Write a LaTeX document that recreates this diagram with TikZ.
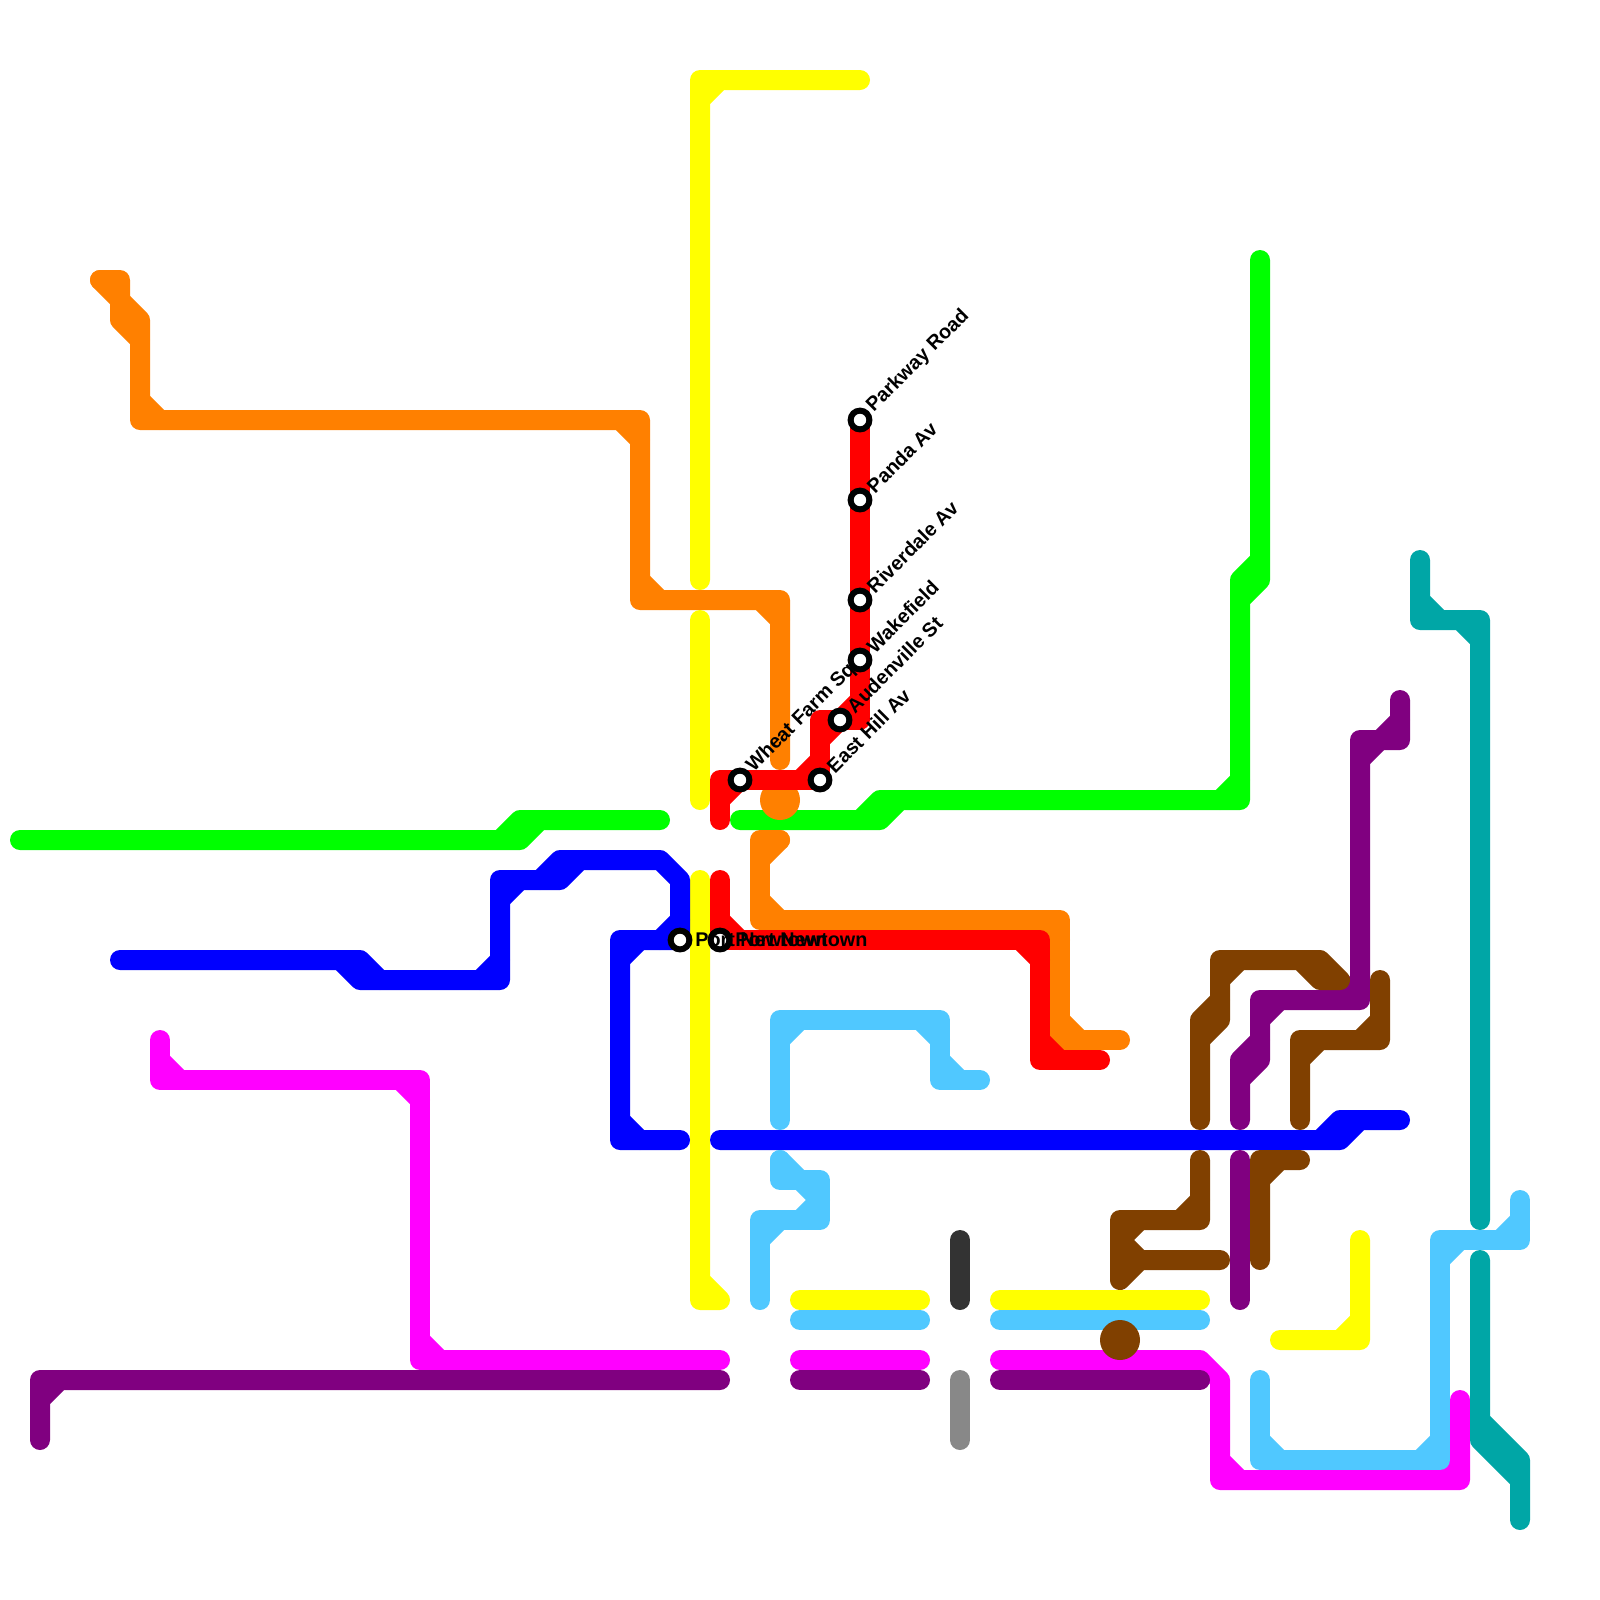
\documentclass[tikz,border=0pt]{standalone}
\usepackage{fontspec}
\setmainfont{Liberation Sans}
\usepackage{xcolor}
\usepackage{tikz}
\definecolor{railgreen}{HTML}{00FF00}
\definecolor{railorange}{HTML}{FF8000}
\definecolor{railyellow}{HTML}{FFFF00}
\definecolor{railblue}{HTML}{0000FF}
\definecolor{railmagenta}{HTML}{FF00FF}
\definecolor{railsky}{HTML}{50C8FF}
\definecolor{railpurple}{HTML}{800080}
\definecolor{railbrown}{HTML}{804000}
\definecolor{railteal}{HTML}{00A6A6}
\definecolor{railred}{HTML}{FF0000}
\definecolor{raildark}{HTML}{333333}
\definecolor{railgrey}{HTML}{888888}
\tikzstyle{rail} = [line width=0.5cm, line cap=round, line join=round]
\tikzstyle{hub} = [circle, inner sep=0pt, minimum size=1cm]
\tikzstyle{station} = [circle, draw=black, fill=white, line width=0.15cm, minimum size=0.47cm, inner sep=0pt]
\tikzstyle{slanttext} = [font=\fontsize{14.1}{14.1}\selectfont\bfseries, anchor=west, inner sep=0pt, xshift=0.25cm, yshift=0.27cm, rotate=45]
\tikzstyle{flattext} = [font=\fontsize{14.1}{14.1}\selectfont\bfseries, anchor=west, inner sep=0pt, xshift=0.375cm]

\begin{document}
\begin{tikzpicture}[x=0.5cm, y=-0.5cm]
\useasboundingbox (0,0) rectangle (80,80);

\coordinate (parkwaypt) at (43,21);
\coordinate (pandapt) at (43,25);
\coordinate (riverdalept) at (43,30);
\coordinate (wakefieldpt) at (43,33);
\coordinate (audenvillept) at (42,36);
\coordinate (easthillpt) at (41,39);
\coordinate (wheatfarmpt) at (37,39);
\coordinate (portbluept) at (34,47);
\coordinate (portredpt) at (36,47);

\draw[rail, railgreen] (1,42) -- (26,42) -- (27,41) -- (33,41) (25,42) -- (26,41) -- (27,41);
\draw[rail, railgreen] (37,41) -- (44,41) -- (45,40) -- (62,40) -- (62,29) -- (63,28) -- (63,13) -- (63,29) -- (62,30);
\draw[rail, railgreen] (43,41) -- (44,40) -- (45,40) (61,40) -- (62,39);

\draw[rail, railorange] (5,14) -- (6,14) -- (6,16) -- (7,17) -- (7,21) -- (32,21) -- (32,30) -- (39,30) -- (39,38);
\draw[rail, railorange] (5,14) -- (7,16) -- (7,17) (7,20) -- (8,21) (31,21) -- (32,22) (32,29) -- (33,30) (38,30) -- (39,31);
\draw[rail, railorange] (39,42) -- (38,42) -- (38,46) -- (53,46) -- (53,52) -- (56,52);
\draw[rail, railorange] (39,42) -- (38,43) (38,45) -- (39,46) (52,46) -- (53,47) (53,51) -- (54,52);
\node (orangehub) [hub, fill=railorange] at (39,40) {};

\draw[rail, railyellow] (43,4) -- (35,4) -- (35,29) (35,5) -- (36,4);
\draw[rail, railyellow] (35,31) -- (35,40);
\draw[rail, railyellow] (35,44) -- (35,65) -- (36,65) (35,64) -- (36,65);
\draw[rail, railyellow] (40,65) -- (46,65);
\draw[rail, railyellow] (50,65) -- (60,65);
\draw[rail, railyellow] (68,62) -- (68,67) -- (64,67) (68,66) -- (67,67);

\draw[rail, railblue] (6,48) -- (18,48) -- (19,49) -- (25,49) -- (25,44) -- (28,44) -- (29,43) -- (33,43) -- (34,44) -- (portbluept) -- (31,47) -- (31,57) -- (34,57);
\draw[rail, railblue] (17,48) -- (18,49) -- (19,49) (24,49) -- (25,48) (25,45) -- (26,44) (27,44) -- (28,43) -- (29,43) (34,46) -- (33,47) (32,47) -- (31,48) (31,56) -- (32,57);
\draw[rail, railblue] (36,57) -- (67,57) -- (68,56) -- (70,56) (66,57) -- (67,56) -- (68,56);

\draw[rail, railmagenta] (8,52) -- (8,54) -- (21,54) -- (21,68) -- (36,68);
\draw[rail, railmagenta] (8,53) -- (9,54) (20,54) -- (21,55) (21,67) -- (22,68);
\draw[rail, railmagenta] (40,68) -- (46,68);
\draw[rail, railmagenta] (50,68) -- (60,68) -- (61,69) -- (61,74) -- (73,74) -- (73,70) (61,73) -- (62,74) (72,74) -- (73,73);

\draw[rail, railsky] (39,56) -- (39,51) -- (47,51) -- (47,54) -- (49,54);
\draw[rail, railsky] (39,52) -- (40,51) (46,51) -- (47,52) (47,53) -- (48,54);
\draw[rail, railsky] (39,58) -- (39,59) -- (41,59) -- (41,61) -- (38,61) -- (38,65);
\draw[rail, railsky] (39,58) -- (41,60) -- (40,61) (38,62) -- (39,61);
\draw[rail, railsky] (40,66) -- (46,66);
\draw[rail, railsky] (50,66) -- (60,66);
\draw[rail, railsky] (63,69) -- (63,73) -- (72,73) -- (72,62) -- (76,62) -- (76,60);
\draw[rail, railsky] (63,72) -- (64,73) (71,73) -- (72,72) (72,63) -- (73,62) (75,62) -- (76,61);

\draw[rail, railpurple] (36,69) -- (2,69) -- (2,72) (2,70) -- (3,69);
\draw[rail, railpurple] (40,69) -- (46,69);
\draw[rail, railpurple] (50,69) -- (60,69);
\draw[rail, railpurple] (62,56) -- (62,53) -- (63,52) -- (63,50) -- (68,50) -- (68,37) -- (70,37) -- (70,35);
\draw[rail, railpurple] (62,54) -- (63,53) -- (63,52) (63,51) -- (64,50) (67,50) -- (68,49) (68,38) -- (69,37) (69,37) -- (70,36);
\draw[rail, railpurple] (62,58) -- (62,65);

\draw[rail, railbrown] (60,56) -- (60,51) -- (61,50) -- (61,48) -- (66,48) -- (67,49) -- (66,49) -- (65,48);
\draw[rail, railbrown] (60,52) -- (61,51) -- (61,50) (61,49) -- (62,48);
\draw[rail, railbrown] (65,56) -- (65,52) -- (69,52) -- (69,49) (65,53) -- (66,52) (68,52) -- (69,51);
\draw[rail, railbrown] (60,58) -- (60,61) -- (56,61) -- (56,64) -- (57,63) -- (61,63);
\draw[rail, railbrown] (59,61) -- (60,60) (56,62) -- (57,61) (56,62) -- (57,63);
\draw[rail, railbrown] (65,58) -- (63,58) -- (63,63) (64,58) -- (63,59);

\draw[rail, railteal] (71,28) -- (71,31) -- (74,31) -- (74,61) (71,30) -- (72,31) (73,31) -- (74,32);
\draw[rail, railteal] (74,63) -- (74,72) -- (76,74) -- (76,76) (74,71) -- (76,73) -- (76,74);

\draw[rail, raildark] (48,62) -- (48,65);
\draw[rail, railgrey] (48,69) -- (48,72);

\draw[rail, railred] (parkwaypt) -- (pandapt) -- (riverdalept) -- (wakefieldpt) -- (43,36) -- (41,36) -- (easthillpt) -- (wheatfarmpt) -- (36,39) -- (36,41);
\draw[rail, railred] (43,35) -- (audenvillept) -- (41,37) (41,38) -- (40,39) (wheatfarmpt) -- (36,40);
\draw[rail, railred] (36,44) -- (portredpt) -- (52,47) -- (52,53) -- (55,53);
\draw[rail, railred] (36,46) -- (37,47) (51,47) -- (52,48) (52,52) -- (53,53);

\node (brownhub) [hub, fill=railbrown] at (56,67) {};

\node (parkway) [station] at (parkwaypt) {};
\node (panda) [station] at (pandapt) {};
\node (riverdale) [station] at (riverdalept) {};
\node (wakefield) [station] at (wakefieldpt) {};
\node (audenville) [station] at (audenvillept) {};
\node (easthill) [station] at (easthillpt) {};
\node (wheatfarm) [station] at (wheatfarmpt) {};
\node (portblue) [station] at (portbluept) {};
\node (portred) [station] at (portredpt) {};

\node (parkwaytext) [slanttext] at (parkway) {Parkway Road};
\node (pandatext) [slanttext] at (panda) {Panda Av};
\node (riverdaletext) [slanttext] at (riverdale) {Riverdale Av};
\node (wakefieldtext) [slanttext] at (wakefield) {Wakefield};
\node (audenvilletext) [slanttext] at (audenville) {Audenville St};
\node (easthilltext) [slanttext] at (easthill) {East Hill Av};
\node (wheatfarmtext) [slanttext] at (wheatfarm) {Wheat Farm Sq};
\node (portbluetext) [flattext] at (portblue) {Port Newtown};
\node (portredtext) [flattext] at (portred) {Port Newtown};

\end{tikzpicture}
\end{document}
